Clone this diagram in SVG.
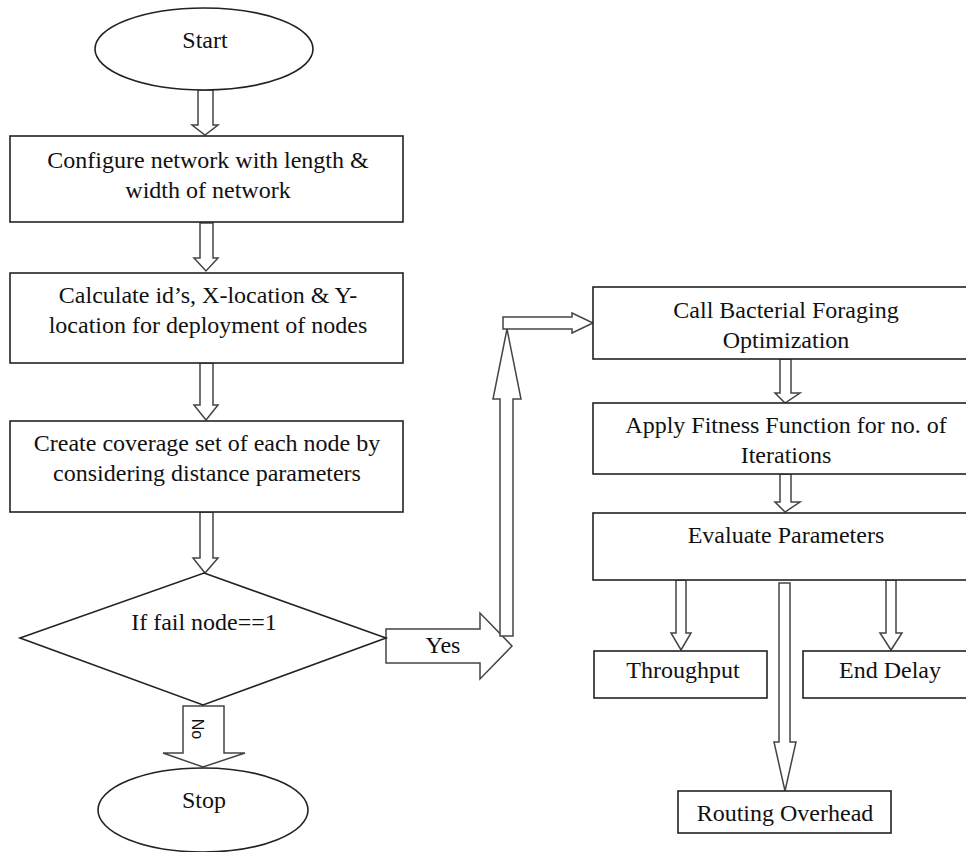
<svg xmlns="http://www.w3.org/2000/svg" width="966" height="852" viewBox="0 0 966 852">
<style>
.box{fill:#fff;stroke:#222;stroke-width:1.6}
.arr{fill:#fff;stroke:#444;stroke-width:1.5;stroke-linejoin:miter}
.t{font-family:"Liberation Serif","Times New Roman",serif;font-size:24px;fill:#111;text-anchor:middle}
.s{font-family:"Liberation Sans",Arial,sans-serif;font-size:16px;fill:#111;text-anchor:middle}
</style>
<rect width="966" height="852" fill="#fff"/>
<g id="connectors">
<polygon class="arr" points="198,90 213,90 213,125 218,125 205,135 192,125 198,125"/>
<polygon class="arr" points="200,223 213,223 213,258 218,258 206,271 194,258 200,258"/>
<polygon class="arr" points="200,363 213,363 213,405 218,405 206,420 194,405 200,405"/>
<polygon class="arr" points="200,512 213,512 213,558 218,558 205,573 193,558 200,558"/>
<polygon class="arr" points="183,706 224,706 224,753 245,753 203,767 163,753 183,753"/>
<polygon class="arr" points="386,629 480,629 480,613 512,646 480,679 480,663 386,663"/>
<polygon class="arr" points="500,636 513,636 513,399 521,399 507,329 493,399 500,399"/>
<polygon class="arr" points="503,317 572,317 572,313 593,323 572,333 572,329 503,329"/>
<polygon class="arr" points="780,359 791,359 791,393 800,393 785,403 775,393 780,393"/>
<polygon class="arr" points="780,474 791,474 791,502 800,502 785,512 775,502 780,502"/>
<polygon class="arr" points="676,580 686,580 686,633 691,633 681,650 671,633 676,633"/>
<polygon class="arr" points="886,580 896,580 896,633 902,633 891,650 880,633 886,633"/>
<polygon class="arr" points="779,583 790,583 790,742 796,742 785,791 774,742 779,742"/>
</g>
<g id="start">
<ellipse class="box" cx="204" cy="49" rx="109" ry="41"/>
<text class="t" x="205" y="48">Start</text>
</g>
<g id="configure">
<rect class="box" x="10" y="136" width="393" height="86"/>
<text class="t" x="208" y="168">Configure network with length &amp;</text>
<text class="t" x="208" y="198">width of network</text>
</g>
<g id="calculate">
<rect class="box" x="10" y="273" width="393" height="90"/>
<text class="t" x="208" y="303">Calculate id’s, X-location &amp; Y-</text>
<text class="t" x="208" y="333">location for deployment of nodes</text>
</g>
<g id="coverage">
<rect class="box" x="10" y="421" width="393" height="91"/>
<text class="t" x="207" y="451">Create coverage set of each node by</text>
<text class="t" x="207" y="481">considering distance parameters</text>
</g>
<g id="decision">
<polygon class="box" points="204,573 386,638 203,705 20,638"/>
<text class="t" x="204" y="630">If fail node==1</text>
</g>
<g id="no-label">
<text class="s" transform="translate(197,729) rotate(90)" y="5">No</text>
</g>
<g id="yes-label">
<text class="t" x="443" y="653">Yes</text>
</g>
<g id="stop">
<ellipse class="box" cx="203" cy="810" rx="105" ry="42"/>
<text class="t" x="204" y="808">Stop</text>
</g>
<g id="bfo">
<rect class="box" x="593" y="287" width="380" height="72"/>
<text class="t" x="786" y="318">Call Bacterial Foraging</text>
<text class="t" x="786" y="348">Optimization</text>
</g>
<g id="fitness">
<rect class="box" x="593" y="403" width="380" height="71"/>
<text class="t" x="786" y="433">Apply Fitness Function for no. of</text>
<text class="t" x="786" y="463">Iterations</text>
</g>
<g id="evaluate">
<rect class="box" x="593" y="513" width="380" height="67"/>
<text class="t" x="786" y="543">Evaluate Parameters</text>
</g>
<g id="throughput">
<rect class="box" x="594" y="651" width="173" height="47"/>
<text class="t" x="683" y="678">Throughput</text>
</g>
<g id="enddelay">
<rect class="box" x="803" y="651" width="170" height="47"/>
<text class="t" x="890" y="678">End Delay</text>
</g>
<g id="routing">
<rect class="box" x="678" y="791" width="213" height="42"/>
<text class="t" x="785" y="821">Routing Overhead</text>
</g>
</svg>
